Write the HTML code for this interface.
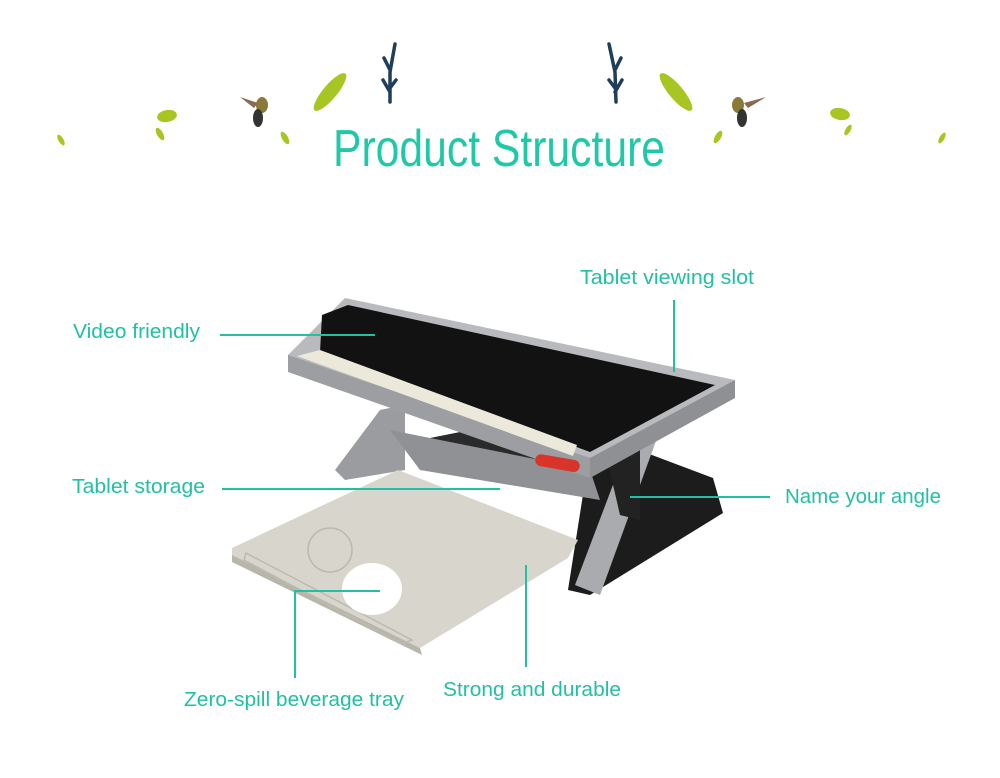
<!DOCTYPE html>
<html><head><meta charset="utf-8"><style>
html,body{margin:0;padding:0;background:#fff;}
svg{display:block}
text{font-family:"Liberation Sans",sans-serif;fill:#22c0a2;}
</style></head><body>
<svg width="1000" height="778" viewBox="0 0 1000 778" xmlns="http://www.w3.org/2000/svg">
<rect width="1000" height="778" fill="#fff"/>
<!-- decorations -->
<g fill="#a7c623">
<ellipse cx="167" cy="116" rx="10" ry="6" transform="rotate(-10 167 116)"/>
<ellipse cx="160" cy="134" rx="3" ry="7" transform="rotate(-30 160 134)"/>
<ellipse cx="61" cy="140" rx="2.5" ry="6" transform="rotate(-30 61 140)"/>
<ellipse cx="330" cy="92" rx="7" ry="24" transform="rotate(40 330 92)"/>
<ellipse cx="285" cy="138" rx="3" ry="7" transform="rotate(-30 285 138)"/>
<ellipse cx="676" cy="92" rx="7" ry="24" transform="rotate(-40 676 92)"/>
<ellipse cx="840" cy="114" rx="10" ry="6" transform="rotate(10 840 114)"/>
<ellipse cx="848" cy="130" rx="2.5" ry="6" transform="rotate(30 848 130)"/>
<ellipse cx="942" cy="138" rx="2.5" ry="6" transform="rotate(30 942 138)"/>
<ellipse cx="718" cy="137" rx="3" ry="7" transform="rotate(30 718 137)"/>
</g>
<g stroke="#1e3e5a" stroke-width="3.5" fill="none" stroke-linecap="round">
<path d="M390 102 L390 72 L395 44 M390 70 L384 58 M390 88 L396 80 M390 92 L383 80"/>
<path d="M616 102 L615 72 L609 44 M615 70 L621 58 M615 88 L609 80 M615 92 L622 80"/>
</g>
<g>
<ellipse cx="262" cy="105" rx="6" ry="8" fill="#8a7a3a"/>
<ellipse cx="258" cy="118" rx="5" ry="9" fill="#333"/>
<path d="M240 97 L258 103 L254 108 Z" fill="#8a6a50"/>
<ellipse cx="738" cy="105" rx="6" ry="8" fill="#8a7a3a"/>
<ellipse cx="742" cy="118" rx="5" ry="9" fill="#333"/>
<path d="M766 97 L744 103 L748 108 Z" fill="#8a6a50"/>
</g>
<text x="333" y="166" font-size="52" textLength="332" lengthAdjust="spacingAndGlyphs" style="fill:#1fc9a8">Product Structure</text>

<!-- product -->
<polygon points="590,450 620,443 713,478 723,513 590,595 568,590" fill="#1c1c1c"/>
<polygon points="420,440 470,430 560,440 600,470 520,470 430,470" fill="#2a2a2a"/>
<polygon points="380,410 405,405 405,470 345,480 335,470" fill="#9a9ca0"/>
<polygon points="630,440 660,430 600,595 575,585" fill="#a9abaf"/>
<polygon points="605,450 640,440 640,520 620,515" fill="#222"/>
<polygon points="390,430 590,470 600,500 420,470" fill="#8f9195"/>
<!-- tray -->
<polygon points="232,548 398,470 578,540 568,558 540,575 420,648 232,555" fill="#d8d5cc"/>
<polygon points="232,555 420,648 422,655 232,562" fill="#b8b5ab"/>
<polygon points="246,553 412,640 402,644 244,560" fill="none" stroke="#bdbab1" stroke-width="1.5"/>
<circle cx="330" cy="550" r="22" fill="none" stroke="#bcb9af" stroke-width="1.5"/>
<ellipse cx="372" cy="589" rx="30" ry="26" fill="#fff"/>
<!-- top frame -->
<polygon points="288,355 345,298 735,380 590,470 590,458 288,370" fill="#b8babd"/>
<polygon points="288,355 590,458 590,478 288,372" fill="#9c9ea2"/>
<polygon points="590,458 735,380 735,398 590,478" fill="#8e9094"/>
<polygon points="322,315 348,305 715,385 590,452 320,352" fill="#121212"/>
<polygon points="297,356 320,350 577,445 573,456" fill="#ece8da"/>
<rect x="535" y="457" width="45" height="12" rx="6" fill="#d8342a" transform="rotate(10 557 463)"/>

<!-- connectors -->
<g stroke="#22c0a2" stroke-width="2" fill="none">
<line x1="220" y1="335" x2="375" y2="335"/>
<line x1="674" y1="300" x2="674" y2="372"/>
<line x1="222" y1="489" x2="500" y2="489"/>
<line x1="630" y1="497" x2="770" y2="497"/>
<polyline points="380,591 295,591 295,678"/>
<line x1="526" y1="565" x2="526" y2="667"/>
</g>
<g font-size="20">
<text x="73" y="338" textLength="127" lengthAdjust="spacingAndGlyphs">Video friendly</text>
<text x="580" y="284" textLength="174" lengthAdjust="spacingAndGlyphs">Tablet viewing slot</text>
<text x="72" y="493" textLength="133" lengthAdjust="spacingAndGlyphs">Tablet storage</text>
<text x="785" y="503" textLength="156" lengthAdjust="spacingAndGlyphs">Name your angle</text>
<text x="184" y="706" textLength="220" lengthAdjust="spacingAndGlyphs">Zero-spill beverage tray</text>
<text x="443" y="696" textLength="178" lengthAdjust="spacingAndGlyphs">Strong and durable</text>
</g>
</svg>
</body></html>
